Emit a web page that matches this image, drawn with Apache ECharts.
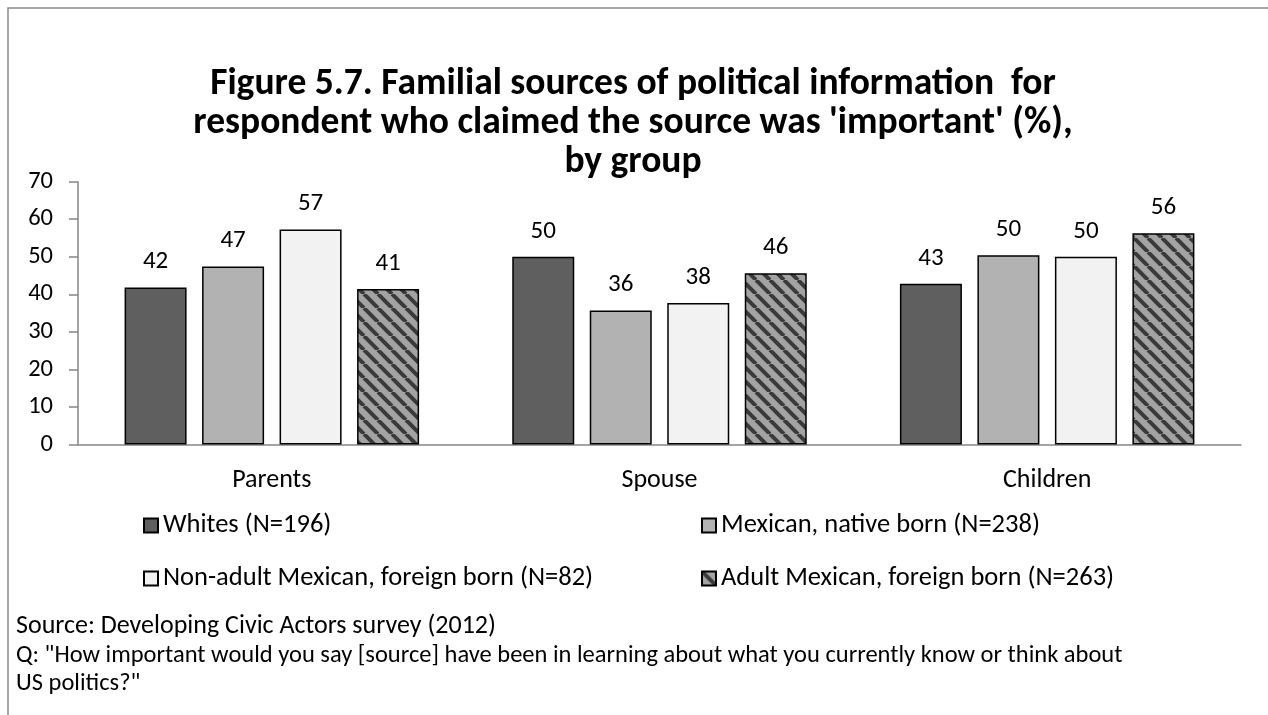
<!DOCTYPE html>
<html>
<head>
<meta charset="utf-8">
<script src="https://cdn.jsdelivr.net/npm/echarts@6/dist/echarts.min.js"></script>
<style>
html,body{margin:0;padding:0;background:#fff;}
#c{width:1268px;height:715px;}
</style>
</head>
<body>
<div id="c"></div>
<script>
const categories = ['Parents', 'Spouse', 'Children'];
const seriesNames = ['Whites (N=196)', 'Mexican, native born (N=238)', 'Non-adult Mexican, foreign born (N=82)', 'Adult Mexican, foreign born (N=263)'];
const whites = [41.8, 50.0, 42.8];
const mexicanNative = [47.4, 35.7, 50.4];
const nonAdultForeign = [57.3, 37.7, 50.0];
const adultForeign = [41.4, 45.6, 56.3];
const yTicks = [0, 10, 20, 30, 40, 50, 60, 70];
const titleLines = ["Figure 5.7. Familial sources of political information  for", "respondent who claimed the source was 'important' (%),", "by group"];
const sourceText = 'Source: Developing Civic Actors survey (2012)';
const questionLines = ['Q: "How important would you say [source] have been in learning about what you currently know or think about', 'US politics?"'];

const FONT = 'Carlito, Lato, sans-serif';

function hatch() {
  const s = 14;
  const cv = document.createElement('canvas');
  cv.width = s; cv.height = s;
  const g = cv.getContext('2d');
  g.fillStyle = '#a3a3a3';
  g.fillRect(0, 0, s, s);
  g.strokeStyle = '#3a3a3a';
  g.lineWidth = 4;
  for (const o of [-s, 0, s]) {
    g.beginPath();
    g.moveTo(o, 0);
    g.lineTo(o + s, s);
    g.stroke();
  }
  return cv;
}

const fills = ['#5f5f5f', '#b2b2b2', '#f2f2f2', { image: hatch(), repeat: 'repeat' }];
const values = [whites, mexicanNative, nonAdultForeign, adultForeign];

const chart = echarts.init(document.getElementById('c'), null, { renderer: 'canvas' });

const legendPos = [[143, 512], [701, 512], [143, 565], [701, 565]];

chart.setOption({
  animation: false,
  backgroundColor: '#fff',
  title: {
    text: titleLines.join('\n'),
    left: 628,
    textAlign: 'center',
    top: 60,
    textStyle: { fontFamily: FONT, fontSize: 37.5, fontWeight: 'bold', color: '#000', lineHeight: 39 }
  },
  grid: { left: 78, right: 27, top: 181.7, bottom: 270.5, containLabel: false },
  legend: seriesNames.map((n, i) => ({
    data: [n],
    left: legendPos[i][0],
    top: legendPos[i][1],
    padding: 0,
    icon: 'rect',
    itemWidth: 14,
    itemHeight: 14,
    selectedMode: false,
    textStyle: { fontFamily: FONT, fontSize: 26.5, color: '#000' }
  })),
  xAxis: {
    type: 'category',
    data: categories,
    axisLine: { lineStyle: { color: '#868686', width: 1.5 } },
    axisTick: { show: false },
    axisLabel: { fontFamily: FONT, fontSize: 26, color: '#000', margin: 23 }
  },
  yAxis: {
    type: 'value',
    min: yTicks[0],
    max: yTicks[yTicks.length - 1],
    interval: 10,
    splitLine: { show: false },
    axisLine: { show: true, lineStyle: { color: '#868686', width: 1.5 } },
    axisTick: { show: true, length: 9, lineStyle: { color: '#868686', width: 1.5 } },
    axisLabel: { fontFamily: FONT, fontSize: 24.5, color: '#000', margin: 25 }
  },
  series: values.map((v, i) => ({
    name: seriesNames[i],
    type: 'bar',
    data: v,
    barWidth: 62,
    barGap: '25%',
    itemStyle: { color: fills[i], borderColor: '#000', borderWidth: 1.5 },
    label: {
      show: true,
      position: 'top',
      distance: 13,
      fontFamily: FONT,
      fontSize: 25,
      color: '#000',
      formatter: p => Math.round(p.value)
    }
  })),
  graphic: [
    { type: 'rect', shape: { x: 8, y: 8, width: 1400, height: 900 }, style: { fill: 'none', stroke: '#8a8a8a', lineWidth: 1.5 }, silent: true },
    { type: 'text', left: 16, top: 613, style: { text: sourceText, fontFamily: FONT, fontSize: 26, fill: '#000' } },
    { type: 'text', left: 16, top: 642, style: { text: questionLines.join('\n'), fontFamily: FONT, fontSize: 24.5, lineHeight: 28, fill: '#000' } }
  ]
});
</script>
</body>
</html>
